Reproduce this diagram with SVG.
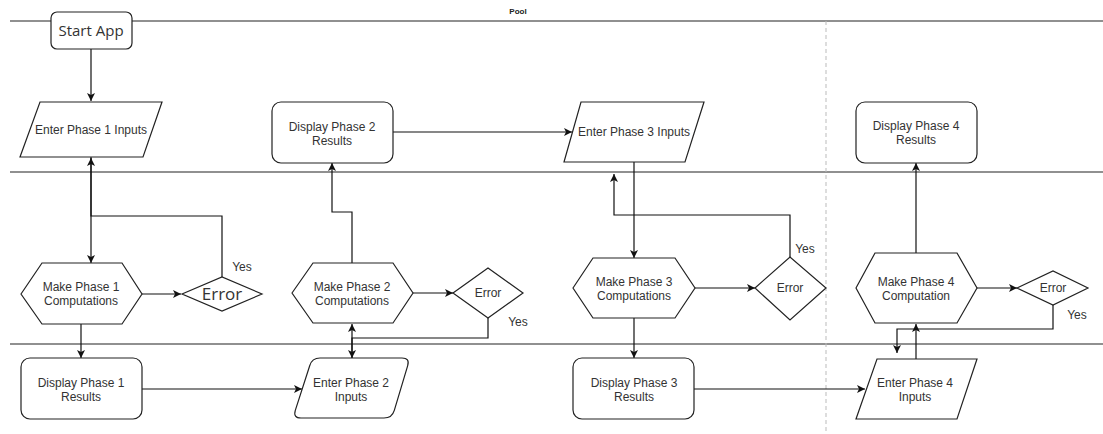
<svg xmlns="http://www.w3.org/2000/svg" width="1103" height="434" viewBox="0 0 1103 434">
<style>
.shape{fill:#fff;stroke:#222;stroke-width:1.2}
.lane{stroke:#222;stroke-width:1.2;fill:none}
.conn{stroke:#111;stroke-width:1.2;fill:none}
.t{font-family:"Liberation Sans",Arial,sans-serif;font-size:12px;fill:#333;text-anchor:middle}
.big{font-family:"Open Sans","DejaVu Sans",sans-serif;fill:#333;text-anchor:middle}
</style>
<defs>
<marker id="arr" markerWidth="10" markerHeight="10" refX="8" refY="4" orient="auto" markerUnits="userSpaceOnUse">
<path d="M0,0 L8,4 L0,8 L2,4 Z" fill="#111"/>
</marker>
</defs>
<rect width="1103" height="434" fill="#fff"/>
<g id="pool">
<line class="lane" x1="10" y1="21" x2="1103" y2="21"/>
<line class="lane" x1="10" y1="172" x2="1103" y2="172"/>
<line class="lane" x1="10" y1="344" x2="1103" y2="344"/>
<line x1="826" y1="21" x2="826" y2="434" stroke="#bbb" stroke-width="1" stroke-dasharray="4,3"/>
<text x="518" y="14" font-family="'Liberation Sans',Arial,sans-serif" font-size="8" font-weight="bold" fill="#222" text-anchor="middle">Pool</text>
</g>
<g id="connectors">
<line class="conn" x1="91" y1="49" x2="91" y2="101" marker-end="url(#arr)"/>
<line class="conn" x1="91" y1="157" x2="91" y2="263" marker-end="url(#arr)"/>
<path class="conn" d="M222,277 V216 H91 V158" marker-end="url(#arr)"/>
<line class="conn" x1="142" y1="294" x2="181" y2="294" marker-end="url(#arr)"/>
<line class="conn" x1="81" y1="324" x2="81" y2="358" marker-end="url(#arr)"/>
<line class="conn" x1="142" y1="389" x2="302" y2="389" marker-end="url(#arr)"/>
<path class="conn" d="M352,263 V212 H332 V163" marker-end="url(#arr)"/>
<line class="conn" x1="413" y1="293" x2="453" y2="293" marker-end="url(#arr)"/>
<line class="conn" x1="352" y1="358" x2="352" y2="324" marker-end="url(#arr)"/>
<path class="conn" d="M488,318 V338 H352 V358" marker-end="url(#arr)"/>
<line class="conn" x1="393" y1="132" x2="572" y2="132" marker-end="url(#arr)"/>
<line class="conn" x1="634" y1="162" x2="634" y2="258" marker-end="url(#arr)"/>
<path class="conn" d="M790,257 V215 H614 V174" marker-end="url(#arr)"/>
<line class="conn" x1="695" y1="288" x2="755" y2="288" marker-end="url(#arr)"/>
<line class="conn" x1="634" y1="318" x2="634" y2="358" marker-end="url(#arr)"/>
<line class="conn" x1="694" y1="389" x2="865" y2="389" marker-end="url(#arr)"/>
<line class="conn" x1="916" y1="253" x2="916" y2="163" marker-end="url(#arr)"/>
<line class="conn" x1="977" y1="288" x2="1017" y2="288" marker-end="url(#arr)"/>
<line class="conn" x1="916" y1="359" x2="916" y2="324" marker-end="url(#arr)"/>
<path class="conn" d="M1053,305 V329 H897 V353" marker-end="url(#arr)"/>
</g>
<g id="start-app">
<rect class="shape" x="51" y="12" width="81" height="37" rx="6"/>
<text class="big" x="91" y="36" font-size="15">Start App</text>
</g>
<g id="enter-phase-1">
<polygon class="shape" points="40,102 162,102 143,157 20,157"/>
<text class="t" x="91" y="134">Enter Phase 1 Inputs</text>
</g>
<g id="display-phase-2">
<rect class="shape" x="272" y="102" width="121" height="61" rx="9"/>
<text class="t" x="332" y="131">Display Phase 2</text>
<text class="t" x="332" y="145">Results</text>
</g>
<g id="enter-phase-3">
<polygon class="shape" points="581,102 704,102 685,162 564,162"/>
<text class="t" x="634" y="136">Enter Phase 3 Inputs</text>
</g>
<g id="display-phase-4">
<rect class="shape" x="856" y="102" width="121" height="61" rx="9"/>
<text class="t" x="916" y="130">Display Phase 4</text>
<text class="t" x="916" y="144">Results</text>
</g>
<g id="make-phase-1">
<polygon class="shape" points="21,294 42,263 122,263 142,294 122,324 42,324"/>
<text class="t" x="81" y="291">Make Phase 1</text>
<text class="t" x="81" y="305">Computations</text>
</g>
<g id="error-1">
<polygon class="shape" points="182,294 222,277 262,294 222,311"/>
<text class="big" x="222" y="300" font-size="17">Error</text>
<text class="t" x="242" y="271">Yes</text>
</g>
<g id="make-phase-2">
<polygon class="shape" points="292,293 313,263 393,263 413,293 393,323 313,323"/>
<text class="t" x="352" y="291">Make Phase 2</text>
<text class="t" x="352" y="305">Computations</text>
</g>
<g id="error-2">
<polygon class="shape" points="453,293 488,268 523,293 488,318"/>
<text class="t" x="488" y="297">Error</text>
<text class="t" x="518" y="326">Yes</text>
</g>
<g id="make-phase-3">
<polygon class="shape" points="573,288 593,258 675,258 695,288 675,318 593,318"/>
<text class="t" x="634" y="286">Make Phase 3</text>
<text class="t" x="634" y="300">Computations</text>
</g>
<g id="error-3">
<polygon class="shape" points="755,288 790,257 826,288 790,320"/>
<text class="t" x="790" y="292">Error</text>
<text class="t" x="805" y="253">Yes</text>
</g>
<g id="make-phase-4">
<polygon class="shape" points="856,288 875,253 957,253 977,288 957,323 875,323"/>
<text class="t" x="916" y="286">Make Phase 4</text>
<text class="t" x="916" y="300">Computation</text>
</g>
<g id="error-4">
<polygon class="shape" points="1017,288 1053,271 1088,288 1053,305"/>
<text class="t" x="1053" y="292">Error</text>
<text class="t" x="1077" y="319">Yes</text>
</g>
<g id="display-phase-1">
<rect class="shape" x="21" y="358" width="121" height="61" rx="9"/>
<text class="t" x="81" y="387">Display Phase 1</text>
<text class="t" x="81" y="401">Results</text>
</g>
<g id="enter-phase-2">
<path class="shape" d="M320,358 H402 Q410,358 407.7,365.7 L394.3,410.3 Q392,418 384,418 H301 Q293,418 295.3,410.3 L309.7,365.7 Q312,358 320,358 Z"/>
<text class="t" x="351" y="387">Enter Phase 2</text>
<text class="t" x="351" y="401">Inputs</text>
</g>
<g id="display-phase-3">
<rect class="shape" x="573" y="358" width="121" height="61" rx="9"/>
<text class="t" x="634" y="387">Display Phase 3</text>
<text class="t" x="634" y="401">Results</text>
</g>
<g id="enter-phase-4">
<polygon class="shape" points="877,359 977,359 957,419 856,419"/>
<text class="t" x="915" y="387">Enter Phase 4</text>
<text class="t" x="915" y="401">Inputs</text>
</g>
</svg>
